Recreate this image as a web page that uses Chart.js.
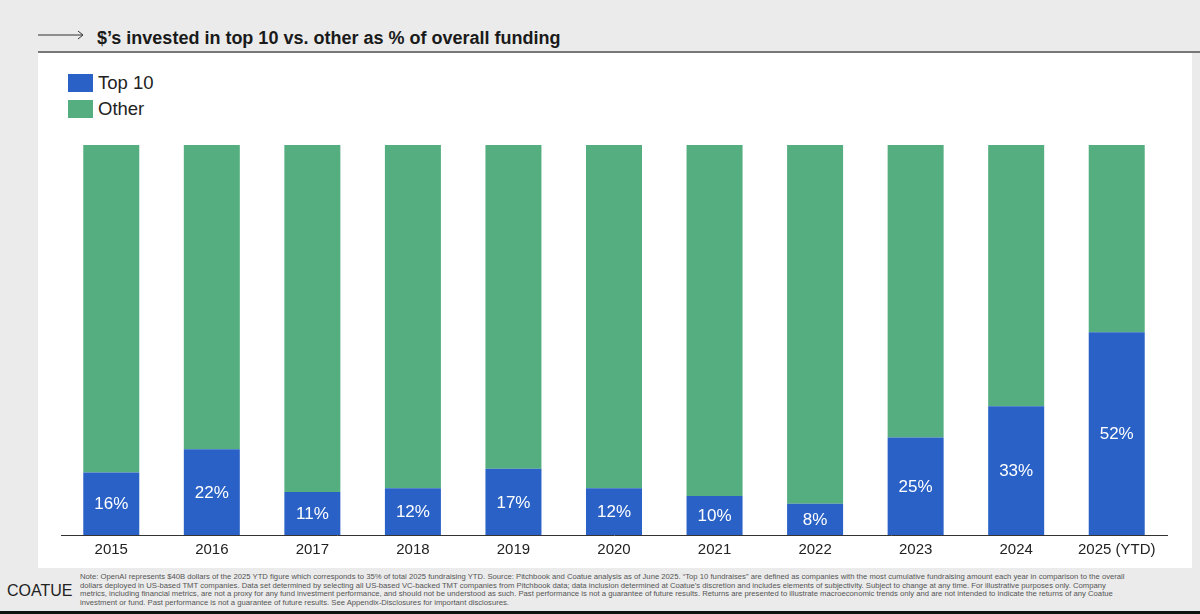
<!DOCTYPE html>
<html>
<head>
<meta charset="utf-8">
<script src="https://cdn.jsdelivr.net/npm/chart.js@4"></script>
<style>
  body { margin: 0; width: 1200px; height: 614px; background: #ebebeb; position: relative; overflow: hidden;
         font-family: "Liberation Sans", Arial, sans-serif; }
  #title { position: absolute; left: 97px; top: 28px; font-size: 18px; font-weight: bold; color: #1a1a1a; }
  #arrow { position: absolute; left: 38px; top: 25px; }
  #rule { position: absolute; left: 38px; top: 51px; width: 1162px; height: 2px; background: #777; }
  #panel { position: absolute; left: 38px; top: 53px; width: 1154px; height: 515px; background: #fff; }
  #legend { position: absolute; left: 68px; top: 74px; font-size: 18.5px; color: #222; }
  .item { height: 25.5px; display: flex; align-items: flex-start; }
  .sw { width: 25px; height: 18px; margin-right: 5px; margin-top: 0px; }
  .item span.t { line-height: 18px; }
  #wrap { position: absolute; left: 33px; top: 130px; width: 1157px; height: 435px; }
  #logo { position: absolute; left: 7px; top: 582px; font-size: 16px; color: #222; }
  #note { position: absolute; left: 80px; top: 573px; font-size: 7.7px; line-height: 8.7px; color: #555; white-space: nowrap; }
  #bottom { position: absolute; left: 0; top: 611px; width: 1200px; height: 3px; background: #111; }
</style>
</head>
<body>
<svg id="arrow" width="50" height="20"><line x1="0" y1="10" x2="44" y2="10" stroke="#333" stroke-width="1"/><polyline points="40,6 45,10 40,14" fill="none" stroke="#333" stroke-width="1"/></svg>
<div id="title">$’s invested in top 10 vs. other as % of overall funding</div>
<div id="rule"></div>
<div id="panel"></div>
<div id="legend"></div>
<div id="wrap"><canvas id="chart"></canvas></div>
<div id="logo">COATUE</div>
<div id="note">
<div>Note: OpenAI represents $40B dollars of the 2025 YTD figure which corresponds to 35% of total 2025 fundraising YTD. Source: Pitchbook and Coatue analysis as of June 2025. “Top 10 fundraises” are defined as companies with the most cumulative fundraising amount each year in comparison to the overall</div>
<div>dollars deployed in US-based TMT companies. Data set determined by selecting all US-based VC-backed TMT companies from Pitchbook data; data inclusion determined at Coatue’s discretion and includes elements of subjectivity. Subject to change at any time. For illustrative purposes only. Company</div>
<div>metrics, including financial metrics, are not a proxy for any fund investment performance, and should not be understood as such. Past performance is not a guarantee of future results. Returns are presented to illustrate macroeconomic trends only and are not intended to indicate the returns of any Coatue</div>
<div>investment or fund. Past performance is not a guarantee of future results. See Appendix-Disclosures for important disclosures.</div>
</div>
<div id="bottom"></div>
<script>
const years = ["2015", "2016", "2017", "2018", "2019", "2020", "2021", "2022", "2023", "2024", "2025 (YTD)"];
const top10 = [16, 22, 11, 12, 17, 12, 10, 8, 25, 33, 52];
const other = [84, 78, 89, 88, 83, 88, 90, 92, 75, 67, 48];
const seriesNames = ["Top 10", "Other"];
const colors = ["#2961c6", "#54ae80"];

// simple vertical legend
const legend = document.getElementById("legend");
seriesNames.forEach((name, i) => {
    legend.innerHTML += '<div class="item"><span class="sw" style="background:' + colors[i] + '"></span><span class="t">' + name + '</span></div>';
});

// white % labels in the middle of the blue bars
const barLabels = {
    id: "barLabels",
    afterDatasetsDraw(chart) {
        const ctx = chart.ctx;
        const meta = chart.getDatasetMeta(0);
        ctx.save();
        ctx.fillStyle = "#fff";
        ctx.font = "17px 'Liberation Sans', Arial, sans-serif";
        ctx.textAlign = "center";
        ctx.textBaseline = "middle";
        meta.data.forEach((bar, i) => {
            ctx.fillText(top10[i] + "%", bar.x, (bar.y + bar.base) / 2 + 1);
        });
        ctx.restore();
    }
};

new Chart(document.getElementById("chart").getContext("2d"), {
    type: "bar",
    data: {
        labels: years,
        datasets: [
            { label: seriesNames[0], data: top10, backgroundColor: colors[0] },
            { label: seriesNames[1], data: other, backgroundColor: colors[1] }
        ]
    },
    options: {
        responsive: true,
        maintainAspectRatio: false,
        animation: false,
        layout: { padding: { left: 28, right: 23, top: 15, bottom: 0 } },
        datasets: { bar: { categoryPercentage: 1, barPercentage: 0.557 } },
        plugins: {
            legend: { display: false },
            tooltip: { enabled: false }
        },
        scales: {
            x: {
                stacked: true,
                grid: { display: false, drawTicks: false },
                border: { color: "#333", width: 1 },
                ticks: { color: "#222", font: { size: 15, family: "'Liberation Sans', Arial, sans-serif" }, padding: 6 }
            },
            y: {
                stacked: true,
                display: false,
                min: 0,
                max: 100
            }
        }
    },
    plugins: [barLabels]
});
</script>
</body>
</html>
